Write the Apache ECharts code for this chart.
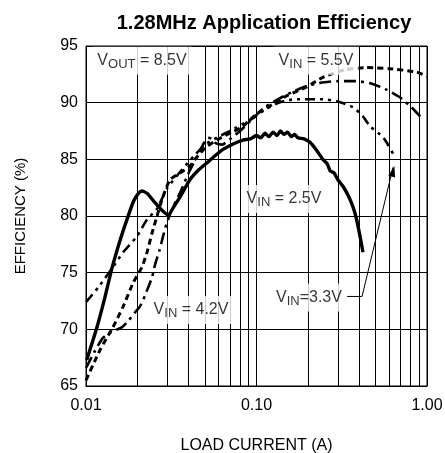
<!DOCTYPE html>
<html><head><meta charset="utf-8">
<script src="https://cdn.jsdelivr.net/npm/echarts@6/dist/echarts.min.js"></script>
<style>html,body{margin:0;padding:0;background:#fff}#c{width:445px;height:453px}</style>
</head><body><div id="c"></div>
<script>
const FONT = '"Liberation Sans", Arial, sans-serif';
const titleText = '1.28MHz Application Efficiency';
const xName = 'LOAD CURRENT (A)';
const yName = 'EFFICIENCY (%)';
const xTickLabels = {'0.01':'0.01','0.1':'0.10','1':'1.00'};
const minorGridX = [0.02,0.03,0.04,0.05,0.06,0.07,0.08,0.09,0.2,0.3,0.4,0.5,0.6,0.7,0.8,0.9];

const vin25 = [[0.0101,67.3],[0.0115,70.0],[0.0128,72.6],[0.0142,75.4],[0.0158,77.8],[0.0174,79.7],[0.0190,81.3],[0.0203,82.0],[0.0213,82.2],[0.0228,82.0],[0.0250,81.3],[0.0275,80.6],[0.0303,80.1],[0.0330,80.9],[0.0360,81.8],[0.0407,83.2],[0.0460,84.1],[0.0513,84.7],[0.0580,85.4],[0.0640,85.9],[0.0740,86.4],[0.0833,86.7],[0.092,86.8],[0.100,87.1],[0.106,86.9],[0.112,87.3],[0.118,87.0],[0.125,87.4],[0.132,87.1],[0.138,87.5],[0.145,87.2],[0.152,87.4],[0.160,87.0],[0.167,87.2],[0.175,86.9],[0.190,86.8],[0.206,86.5],[0.225,85.8],[0.245,85.0],[0.260,84.6],[0.270,84.0],[0.285,83.8],[0.300,83.2],[0.322,82.6],[0.345,81.8],[0.368,80.8],[0.385,79.8],[0.400,78.6],[0.412,77.6],[0.421,76.8]];
const vin33 = [[0.01,72.4],[0.0118,73.7],[0.0144,75.5],[0.0165,76.8],[0.0199,78.2],[0.0228,79.7],[0.026,80.6],[0.0298,82.4],[0.0366,84.1],[0.0436,85.4],[0.05,86.3],[0.06,87.0],[0.072,87.6],[0.085,88.2],[0.095,88.6],[0.11,89.3],[0.13,89.9],[0.15,90.2],[0.173,90.3],[0.206,90.3],[0.245,90.3],[0.30,90.1],[0.368,89.6],[0.421,88.8],[0.464,87.9],[0.55,87.0],[0.59,86.3],[0.649,85.2]];
const vin42 = [[0.01,66.6],[0.0112,68.0],[0.0125,69.2],[0.0138,69.7],[0.0163,70.2],[0.0176,70.7],[0.0194,71.5],[0.0207,72.0],[0.0222,73.0],[0.0244,74.6],[0.0254,75.7],[0.0270,77.0],[0.0283,78.2],[0.0298,79.4],[0.032,80.6],[0.036,82.2],[0.040,83.8],[0.045,85.3],[0.049,86.4],[0.052,86.9],[0.055,86.8],[0.058,86.4],[0.063,86.3],[0.07,86.8],[0.08,87.5],[0.095,88.6],[0.11,89.5],[0.13,90.2],[0.16,90.9],[0.20,91.5],[0.25,91.8],[0.30,91.9],[0.38,91.9],[0.47,91.7],[0.57,91.2],[0.69,90.5],[0.81,89.6],[0.95,88.5]];
const vin55 = [[0.01,65.5],[0.0121,68.2],[0.0144,70.2],[0.0165,72.0],[0.0189,74.1],[0.0213,75.5],[0.0228,76.8],[0.0244,78.5],[0.0261,80.0],[0.0283,81.7],[0.0311,83.2],[0.0356,83.8],[0.0407,84.4],[0.0436,85.0],[0.05,86.0],[0.06,86.8],[0.072,87.4],[0.083,87.9],[0.095,88.7],[0.109,89.4],[0.13,90.0],[0.15,90.6],[0.197,91.4],[0.25,92.3],[0.33,92.9],[0.44,93.1],[0.6,93.0],[0.87,92.7],[1.0,92.3]];

// annotation label anchors (data coordinates) and texts
const annotations = [
  {coord:[0.0213,93.7], main:'V', sub:'OUT', tail:' = 8.5V'},
  {coord:[0.2234,93.7], main:'V', sub:'IN', tail:' = 5.5V'},
  {coord:[0.145,81.5], main:'V', sub:'IN', tail:' = 2.5V'},
  {coord:[0.0413,71.7], main:'V', sub:'IN', tail:' = 4.2V'},
  {coord:[0.203,72.8], main:'V', sub:'IN', tail:'=3.3V'}
];
const leader33 = [[0.340,72.9],[0.416,72.9],[0.632,84.3]];

const chart = echarts.init(document.getElementById('c'), null, {renderer:'canvas'});
const lineBase = (name, data, type, width, z) => ({
  name, type:'line', data, showSymbol:false, symbol:'none', smooth:0.2, z,
  lineStyle:{color:'#000', width, type, cap:'butt'}, silent:true, animation:false
});
const option = {
  animation:false,
  title:{text:titleText, left:259, textAlign:'center', top:8,
    textStyle:{fontFamily:FONT, fontSize:20, fontWeight:'bold', color:'#000'}},
  grid:{left:86, right:18, top:46, bottom:67, show:true, borderColor:'#000', borderWidth:1,
    containLabel:false, outerBoundsMode:'none'},
  xAxis:{type:'log', logBase:10, min:0.01, max:1,
    name:xName, nameLocation:'middle', nameGap:52,
    nameTextStyle:{fontFamily:FONT, fontSize:16, color:'#000'},
    axisLine:{show:true, lineStyle:{color:'#000', width:1}},
    axisTick:{show:false}, minorTick:{show:false},
    axisLabel:{fontFamily:FONT, fontSize:16, color:'#000', margin:12,
      formatter:v => xTickLabels[String(+v.toPrecision(3))] || ''},
    splitLine:{show:true, lineStyle:{color:'#000', width:1}}},
  yAxis:{type:'value', min:65, max:95, interval:5,
    name:yName, nameLocation:'middle', nameGap:58,
    nameTextStyle:{fontFamily:FONT, fontSize:15, color:'#000'},
    axisLine:{show:true, lineStyle:{color:'#000', width:1}},
    axisTick:{show:false},
    axisLabel:{fontFamily:FONT, fontSize:16, color:'#000', margin:8},
    splitLine:{show:true, lineStyle:{color:'#000', width:1}}},
  series:[
    {name:'grid', type:'line', data:[[0.01,65]], showSymbol:false, symbol:'none', z:1, silent:true,
      lineStyle:{width:0},
      markLine:{silent:true, symbol:['none','none'], label:{show:false}, animation:false,
        lineStyle:{color:'#000', width:1, type:'solid'},
        data:minorGridX.map(v => ({xAxis:v}))}},
    lineBase('VIN=5.5V', vin55, [6,4], 3, 5),
    lineBase('VIN=4.2V', vin42, [12,5,3,5], 2.6, 5),
    lineBase('VIN=3.3V', vin33, [10,5,3,5,3,5], 2.6, 5),
    lineBase('VIN=2.5V', vin25, 'solid', 3.4, 6),
    {name:'leader', type:'line', data:leader33, showSymbol:false, symbol:'none', z:7, silent:true,
      lineStyle:{color:'#000', width:1}, smooth:false,
      markPoint:{symbol:'triangle', symbolSize:[7,11], silent:true,
        symbolRotate:-14, itemStyle:{color:'#000'}, label:{show:false},
        data:[{coord:leader33[2], symbolOffset:[0,4]}]}},
    {name:'labels', type:'scatter', symbolSize:0, z:10, silent:true,
      data:annotations.map(a => ({value:a.coord, a})),
      label:{show:true, position:'inside', backgroundColor:'#fff', padding:[4,5,4,5],
        formatter:p => '{m|' + p.data.a.main + '}{s|' + p.data.a.sub + '}{m|' + p.data.a.tail + '}',
        rich:{m:{fontFamily:FONT, fontSize:16, color:'#000'},
              s:{fontFamily:FONT, fontSize:13, color:'#000', padding:[7,0,0,0]}}}}
  ]
};
chart.setOption(option);
</script>
</body></html>
